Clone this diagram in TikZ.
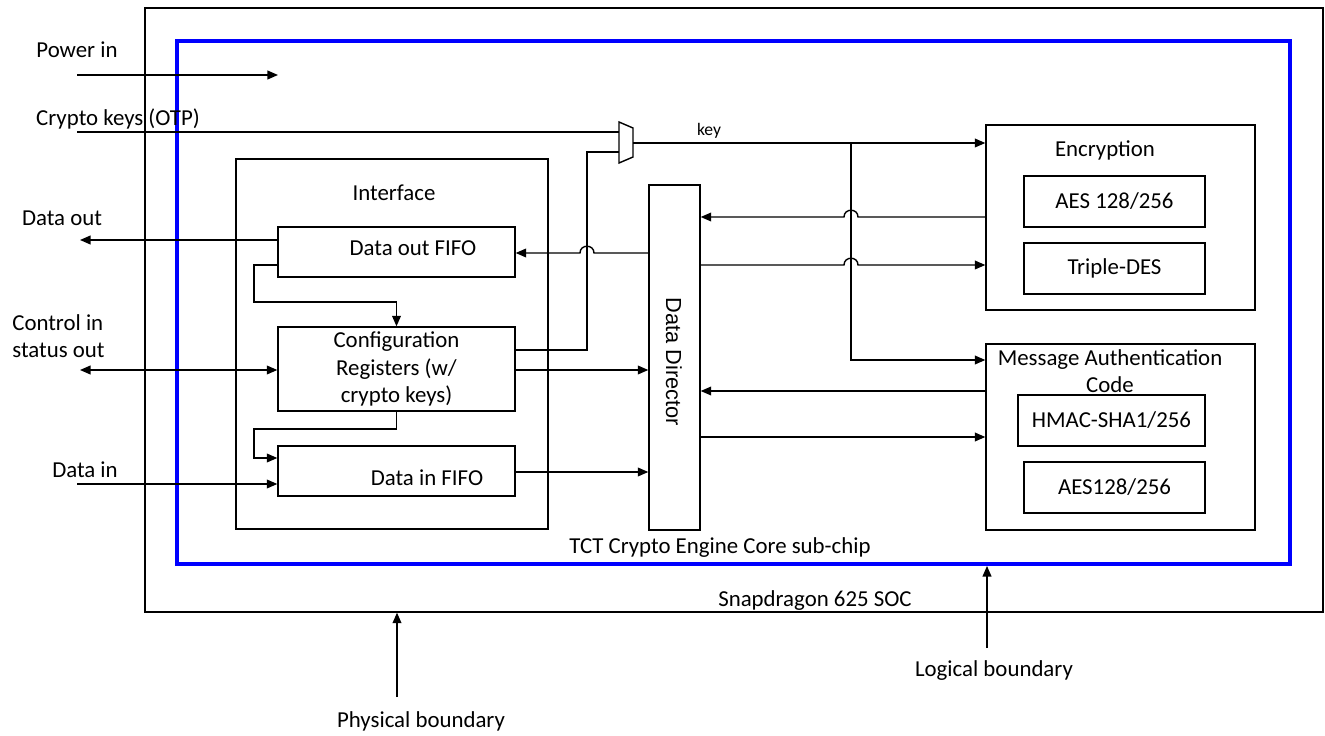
\documentclass[tikz,border=0pt]{standalone}
\usepackage{fontspec}
\setmainfont{Carlito}
\newfontfamily\ddfont{Liberation Sans}
\usetikzlibrary{arrows.meta}

\tikzset{
    box/.style={draw, line width=0.8pt, minimum width=#1, inner sep=0pt},
    lbl/.style={font=\fontsize{13}{15.6}\selectfont, inner sep=0pt},
    arr/.style={line width=0.8pt, -{Triangle[length=6pt, width=5pt]}},
    biarr/.style={line width=0.8pt, {Triangle[length=6pt, width=5pt]}-{Triangle[length=6pt, width=5pt]}},
    wire/.style={line width=0.8pt}
}

\begin{document}
\begin{tikzpicture}[x=0.02cm, y=-0.02cm]
    \useasboundingbox (0,0) rectangle (1325,736);

    % boundaries
    \node [box=23.56cm, minimum height=12.08cm] (phys) at (734,310) {};
    \node [draw=blue, line width=2.3pt, minimum width=22.26cm, minimum height=10.46cm, inner sep=0pt] (core) at (733.5,302.5) {};
    \node [lbl] (corelbl) at (720,548) {TCT Crypto Engine Core sub-chip};
    \node [lbl] (soclbl) at (815,601) {Snapdragon 625 SOC};

    % interface block
    \node [box=6.24cm, minimum height=7.4cm] (iface) at (392,344) {};
    \node [lbl] (ifacelbl) at (394,193) {Interface};
    \node [box=4.74cm, minimum height=1cm] (dofifo) at (396.5,252) {};
    \node [lbl] (dofifolbl) at (413,248) {Data out FIFO};
    \node [box=4.74cm, minimum height=1.68cm, lbl, align=center] (cfgreg) at (396.5,369) {Configuration\\Registers (w/\\crypto keys)};
    \node [box=4.74cm, minimum height=1cm] (dififo) at (396.5,471) {};
    \node [lbl] (dififolbl) at (427,478) {Data in FIFO};

    % data director
    \node [box=1.02cm, minimum height=6.9cm] (ddir) at (674.5,357.5) {};
    \node [font=\ddfont\fontsize{12.4}{14}\selectfont, inner sep=0pt, rotate=-90] (ddirlbl) at (674,362) {Data Director};

    % engines
    \node [box=5.38cm, minimum height=3.7cm] (enc) at (1120.5,217.5) {};
    \node [lbl] (enclbl) at (1105,150) {Encryption};
    \node [box=5.38cm, minimum height=3.72cm] (mac) at (1120.5,437) {};
    \node [lbl, align=center] (maclbl) at (1110,371) {Message Authentication\\Code};
    \node [box=3.62cm, minimum height=1.02cm, lbl] (aes) at (1114.5,201.5) {AES 128/256};
    \node [box=3.62cm, minimum height=1.02cm, lbl] (tdes) at (1114.5,268.5) {Triple-DES};
    \node [box=3.74cm, minimum height=1.02cm, lbl] (hmac) at (1111.5,420.5) {HMAC-SHA1/256};
    \node [box=3.62cm, minimum height=1.02cm, lbl] (aesmac) at (1114.5,487.5) {AES128/256};

    % key mux
    \coordinate (muxa) at (619,132);
    \coordinate (muxb) at (619,152);
    \coordinate (muxo) at (633,143);
    \draw [wire] (619,122) -- (633,128) -- (633,157) -- (619,163) -- cycle;
    \node [font=\fontsize{10}{12}\selectfont, inner sep=0pt] (keylbl) at (709,131) {key};

    % outside signals
    \coordinate (pwrsrc) at (77,75);
    \coordinate (pwrend) at (278,75);
    \coordinate (otpsrc) at (77,132);
    \coordinate (doutend) at (80,240);
    \coordinate (ctrlend) at (80,370);
    \coordinate (dinsrc) at (77,484);
    \node [lbl] (pwrlbl) at (77,50) {Power in};
    \node [lbl] (otplbl) at (118,119) {Crypto keys (OTP)};
    \node [lbl] (doutlbl) at (62,218) {Data out};
    \node [lbl, align=left, anchor=west] (ctrllbl) at (12,336) {Control in\\status out};
    \node [lbl] (dinlbl) at (85,470) {Data in};

    \draw [arr] (pwrsrc) -- (pwrend);
    \draw [wire] (otpsrc) -- (muxa);
    \draw [arr] (dofifo.west |- doutend) -- (doutend);
    \draw [biarr] (ctrlend) -- (cfgreg.west |- ctrlend);
    \draw [arr] (dinsrc) -- (dififo.west |- dinsrc);

    % inside the interface
    \draw [arr] (dofifo.west |- 0,265) -- (254,265) |- (cfgreg.north |- 0,302) -- (cfgreg.north);
    \draw [arr] (cfgreg.south) |- (254,429) |- (dififo.west |- 0,458);
    \draw [wire] (cfgreg.east |- 0,350) -| (587,152) -- (muxb);
    \draw [arr] (ddir.west |- 0,253) -- (594,253) .. controls (594,244) and (580,244) .. (580,253) -- (dofifo.east |- 0,253);
    \draw [arr] (cfgreg.east |- 0,370) -- (ddir.west |- 0,370);
    \draw [arr] (dififo.east |- 0,472) -- (ddir.west |- 0,472);

    % key path
    \coordinate (keyj) at (851,143);
    \draw [arr] (muxo) -- (enc.west |- muxo);
    \draw [arr] (keyj) |- (mac.west |- 0,360);

    % data director <-> engines
    \draw [arr] (enc.west |- 0,217) -- (858,217) .. controls (858,208) and (844,208) .. (844,217) -- (ddir.east |- 0,217);
    \draw [arr] (ddir.east |- 0,265) -- (844,265) .. controls (844,256) and (858,256) .. (858,265) -- (enc.west |- 0,265);
    \draw [arr] (mac.west |- 0,391) -- (ddir.east |- 0,391);
    \draw [arr] (ddir.east |- 0,437) -- (mac.west |- 0,437);

    % boundary pointers
    \coordinate (physsrc) at (397,697);
    \coordinate (logsrc) at (987,648);
    \draw [arr] (physsrc) -- (physsrc |- phys.south);
    \draw [arr] (logsrc) -- (logsrc |- core.south);
    \node [lbl] (physlbl) at (421,721) {Physical boundary};
    \node [lbl] (loglbl) at (994,671) {Logical boundary};
\end{tikzpicture}
\end{document}
